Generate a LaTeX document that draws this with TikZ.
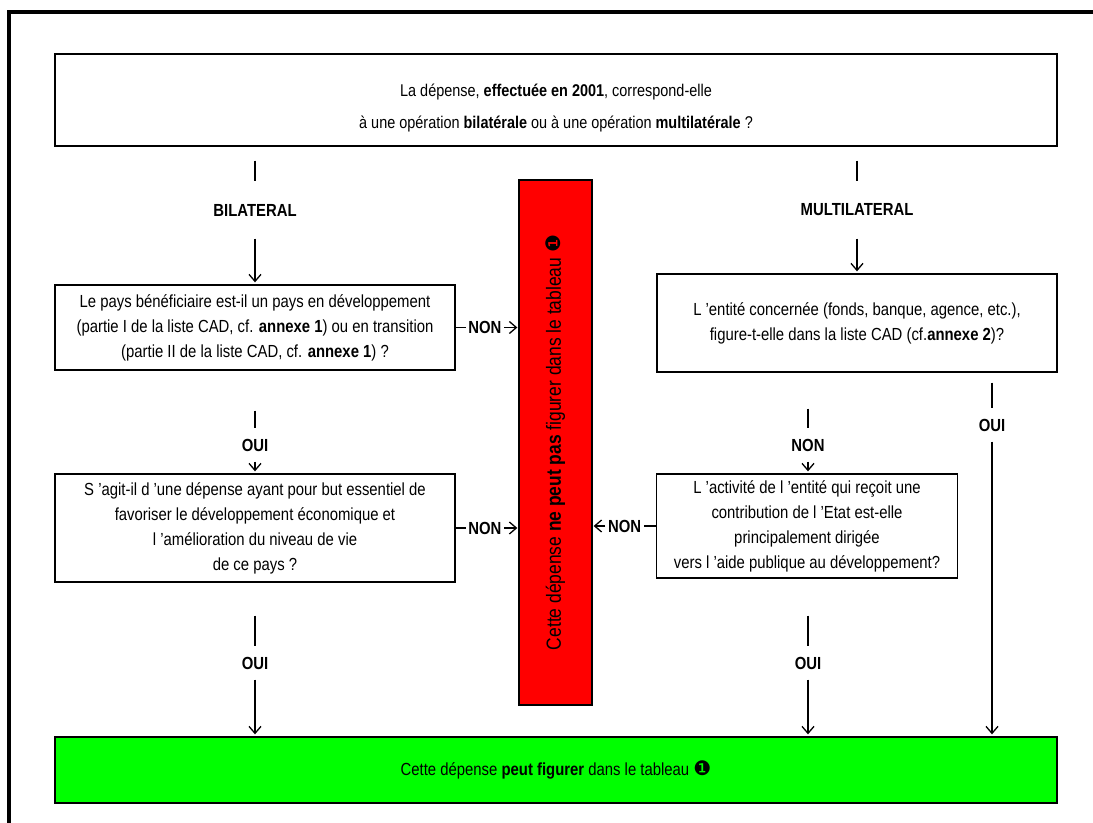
\documentclass[tikz,border=0pt]{standalone}
\usepackage{fontspec}
\setmainfont{Liberation Sans}[FakeStretch=0.85]
\newfontfamily\dingfont{DejaVu Sans}
\usetikzlibrary{arrows.meta,positioning}
\newcommand{\puce}{{\dingfont\fontsize{20bp}{20bp}\selectfont ❶}}

\begin{document}
\begin{tikzpicture}[x=1bp,y=-1bp,>={Straight Barb[length=7bp,width=12bp]},line width=1.3bp,
  box/.style={draw,rectangle,align=center,inner sep=0pt,font=\fontsize{17.5bp}{25bp}\selectfont},
  vlbl/.style={font=\bfseries\fontsize{17.5bp}{20bp}\selectfont,inner sep=0pt,minimum height=32bp},
  hlbl/.style={font=\bfseries\fontsize{17.5bp}{20bp}\selectfont,inner xsep=2bp,inner ysep=0pt}]

\useasboundingbox (0,0) rectangle (1093,823);
\draw[line width=4bp] (9,823) -- (9,12) -- (1093,12);

% question boxes
\node[box,minimum width=1002bp,minimum height=92bp] (q) at (556,100) {};
\node[align=center,inner sep=0pt,font=\fontsize{17bp}{32bp}\selectfont] (qtxt) at (556,108)
  {La dépense, \textbf{effectuée en 2001}, correspond-elle\\ à une opération \textbf{bilatérale} ou à une opération \textbf{multilatérale} ?};
\node[box,minimum width=400bp,minimum height=85bp] (b1) at (255,327.5)
  {Le pays bénéficiaire est-il un pays en développement\\ (partie I de la liste CAD, cf. \textbf{annexe 1}) ou en transition\\ (partie II de la liste CAD, cf. \textbf{annexe 1}) ?};
\node[box,minimum width=400bp,minimum height=108bp] (b2) at (255,528)
  {S ’agit-il d ’une dépense ayant pour but essentiel de\\ favoriser le développement économique et\\ l ’amélioration du niveau de vie\\ de ce pays ?};
\node[box,minimum width=400bp,minimum height=98bp] (m1) at (857,323)
  {L ’entité concernée (fonds, banque, agence, etc.),\\ figure-t-elle dans la liste CAD (cf.\textbf{annexe 2})?};
\node[box,minimum width=301bp,minimum height=104bp] (m2) at (807,526)
  {L ’activité de l ’entité qui reçoit une\\ contribution de l ’Etat est-elle\\ principalement dirigée\\ vers l ’aide publique au développement?};

% verdicts
\node[box,fill=red,minimum width=73bp,minimum height=525bp,font=\fontsize{20.5bp}{24bp}\selectfont] (non) at (555.5,442.5)
  {\rotatebox{90}{Cette dépense \textbf{ne peut pas} figurer dans le tableau \puce}};
\node[box,fill=green,minimum width=1002bp,minimum height=66bp] (oui) at (556,770)
  {Cette dépense \textbf{peut figurer} dans le tableau \puce};

% labels
\node[vlbl,minimum height=56bp] (bil) at (255,210) {BILATERAL};
\node[vlbl,minimum height=56bp] (mul) at (857,210) {MULTILATERAL};
\node[vlbl] (ouiA) at (255,445) {OUI};
\node[vlbl] (ouiB) at (255,663) {OUI};
\node[vlbl] (nonM) at (808,445) {NON};
\node[vlbl] (ouiC) at (808,663) {OUI};
\node[vlbl] (ouiD) at (992,425) {OUI};
\node[hlbl,right=10bp of b1] (nonA) {NON};
\node[hlbl,right=10bp of b2] (nonB) {NON};
\node[hlbl,left=12bp of m2] (nonC) {NON};

\draw[shorten <=14bp] (q.south -| bil) -- (bil);
\draw[->,shorten >=2bp] (bil) -- (b1);
\draw[shorten <=14bp] (q.south -| mul) -- (mul);
\draw[->,shorten >=2bp] (mul) -- (m1);

\draw[shorten <=40bp] (b1) -- (ouiA);
\draw[->,shorten >=2bp] (ouiA) -- (b2);
\draw[shorten <=33bp] (b2) -- (ouiB);
\draw[->,shorten >=2bp] (ouiB) -- (oui.north -| ouiB);

\draw[shorten <=36bp] (m1.south -| nonM) -- (nonM);
\draw[->,shorten >=2bp] (nonM) -- (m2.north -| nonM);
\draw[shorten <=37bp] (m2.south -| ouiC) -- (ouiC);
\draw[->,shorten >=2bp] (ouiC) -- (oui.north -| ouiC);

\draw[shorten <=10bp] (m1.south -| ouiD) -- (ouiD);
\draw[->,shorten >=2bp] (ouiD) -- (oui.north -| ouiD);

\draw (b1) -- (nonA);
\draw[->,shorten >=1bp] (nonA) -- (non.west |- nonA);
\draw (b2) -- (nonB);
\draw[->,shorten >=1bp] (nonB) -- (non.west |- nonB);
\draw (m2) -- (nonC);
\draw[->,shorten >=1bp] (nonC) -- (non.east |- nonC);

\end{tikzpicture}
\end{document}
